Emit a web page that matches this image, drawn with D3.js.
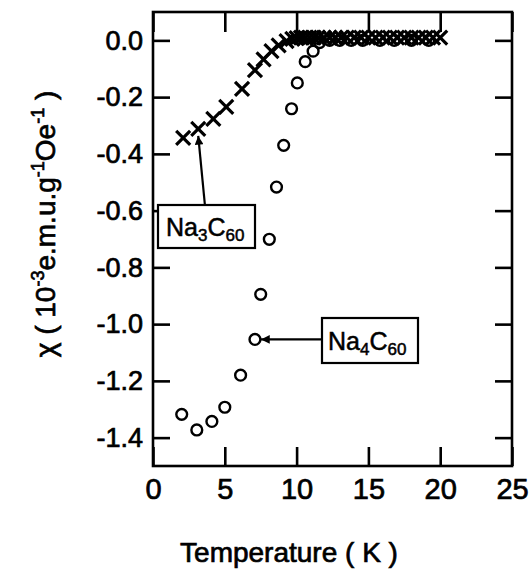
<!DOCTYPE html>
<html>
<head>
<meta charset="utf-8">
<script src="https://cdn.jsdelivr.net/npm/d3@7"></script>
<style>
  body { margin: 0; background: #fff; }
  svg { display: block; font-family: "Liberation Sans", Arial, sans-serif; }
  .axis text { fill: #000; }
</style>
</head>
<body>
<svg id="chart" width="530" height="574"></svg>
<script>
// Na3C60 (crosses)
const na3T = [2.1, 3.15, 4.2, 5.1, 6.2, 7.1, 7.7, 8.25, 8.75, 9.3,
              9.7, 10.0, 10.3, 10.6, 10.9, 11.2, 11.5, 11.9, 12.3, 12.7, 13.1, 13.5,
              14.0, 14.5, 15.0, 15.5, 16.0, 16.5, 17.0, 17.5, 18.0, 18.5, 19.0, 19.5, 20.0];
const na3Chi = [-0.344, -0.312, -0.277, -0.234, -0.171, -0.105, -0.067, -0.038, -0.018, -0.003,
                0.005, 0.008, 0.01, 0.01, 0.01, 0.01, 0.01, 0.01, 0.01, 0.01, 0.01, 0.01,
                0.01, 0.01, 0.01, 0.01, 0.01, 0.01, 0.01, 0.01, 0.01, 0.01, 0.01, 0.01, 0.01];

// Na4C60 (circles)
const na4T = [2.0, 3.05, 4.1, 5.0, 6.1, 7.1, 7.5, 8.1, 8.6, 9.1, 9.65, 10.05, 10.6, 11.15,
              11.6, 12.3, 13.0, 13.8, 14.6, 15.8, 16.8, 18.0, 19.2];
const na4Chi = [-1.318, -1.373, -1.343, -1.293, -1.18, -1.054, -0.895, -0.701, -0.517, -0.37,
                -0.241, -0.15, -0.075, -0.038, -0.008, 0.0, 0.0, 0.0, 0.0, 0.0, 0.0, 0.0, 0.0];

const xTicks = [0, 5, 10, 15, 20, 25];
const yTicks = [0, -0.2, -0.4, -0.6, -0.8, -1.0, -1.2, -1.4];

const svg = d3.select("#chart");
const mLeft = 153, mRight = 512, mTop = 12, mBottom = 466;

const x = d3.scaleLinear().domain([0, 25]).range([mLeft, mRight]);
const y = d3.scaleLinear().domain([-1.5, 0.1]).range([mBottom, mTop]);

// axes
const gx = svg.append("g").attr("class", "axis")
  .attr("transform", `translate(0,${mBottom})`)
  .call(d3.axisBottom(x).tickValues(xTicks).tickSizeInner(-19).tickSizeOuter(0).tickPadding(12));
svg.append("g").attr("class", "axis")
  .attr("transform", `translate(0,${mTop})`)
  .call(d3.axisTop(x).tickValues(xTicks).tickSizeInner(-20).tickSizeOuter(0).tickFormat(""));
const gy = svg.append("g").attr("class", "axis")
  .attr("transform", `translate(${mLeft},0)`)
  .call(d3.axisLeft(y).tickValues(yTicks).tickSizeInner(-17).tickSizeOuter(0).tickPadding(10)
    .tickFormat(d => d.toFixed(1)));
svg.append("g").attr("class", "axis")
  .attr("transform", `translate(${mRight},0)`)
  .call(d3.axisRight(y).tickValues(yTicks).tickSizeInner(-17).tickSizeOuter(0).tickFormat(""));

svg.selectAll(".axis .domain").remove();
svg.selectAll(".axis line").attr("stroke", "#000").attr("stroke-width", 2.6);
gx.selectAll("text").attr("font-size", 29).attr("stroke", "#000").attr("stroke-width", 0.7);
gy.selectAll("text").attr("font-size", 27).attr("stroke", "#000").attr("stroke-width", 0.7);

svg.append("rect")
  .attr("x", mLeft).attr("y", mTop)
  .attr("width", mRight - mLeft).attr("height", mBottom - mTop)
  .attr("fill", "none").attr("stroke", "#000").attr("stroke-width", 2.6);

// circles
svg.append("g").selectAll("circle")
  .data(na4T.map((t, i) => [t, na4Chi[i]]))
  .join("circle")
  .attr("cx", d => x(d[0])).attr("cy", d => y(d[1]))
  .attr("r", 5.4)
  .attr("fill", "none").attr("stroke", "#000").attr("stroke-width", 2.4);

// crosses
const cs = 7;
svg.append("g").selectAll("path")
  .data(na3T.map((t, i) => [t, na3Chi[i]]))
  .join("path")
  .attr("d", d => {
    const px = x(d[0]), py = y(d[1]);
    return `M${px - cs},${py - cs}L${px + cs},${py + cs}M${px - cs},${py + cs}L${px + cs},${py - cs}`;
  })
  .attr("fill", "none").attr("stroke", "#000").attr("stroke-width", 3.2);

// arrow marker
svg.append("defs").append("marker")
  .attr("id", "arr").attr("viewBox", "0 0 10 10")
  .attr("refX", 10).attr("refY", 5)
  .attr("markerWidth", 5).attr("markerHeight", 4)
  .attr("orient", "auto-start-reverse")
  .append("path").attr("d", "M0,0L10,5L0,10Z").attr("fill", "#000");

// Na3C60 label
const na3Pt = [na3T[1], na3Chi[1]];
svg.append("line")
  .attr("x1", 205).attr("y1", 206)
  .attr("x2", x(na3Pt[0])).attr("y2", y(na3Pt[1]) + 7)
  .attr("stroke", "#000").attr("stroke-width", 2.2)
  .attr("marker-end", "url(#arr)");
svg.append("rect").attr("x", 158).attr("y", 205).attr("width", 97).attr("height", 43)
  .attr("fill", "#fff").attr("stroke", "#000").attr("stroke-width", 2.2);
const t3 = svg.append("text").attr("x", 166).attr("y", 236)
  .attr("font-size", 25).attr("stroke", "#000").attr("stroke-width", 0.5);
t3.append("tspan").text("Na");
t3.append("tspan").attr("font-size", 17).attr("dy", 5).text("3");
t3.append("tspan").attr("dy", -5).text("C");
t3.append("tspan").attr("font-size", 17).attr("dy", 5).text("60");

// Na4C60 label
const na4Pt = [na4T[5], na4Chi[5]];
svg.append("line")
  .attr("x1", 322).attr("y1", y(na4Pt[1]))
  .attr("x2", x(na4Pt[0]) + 6).attr("y2", y(na4Pt[1]))
  .attr("stroke", "#000").attr("stroke-width", 2.2)
  .attr("marker-end", "url(#arr)");
svg.append("rect").attr("x", 322).attr("y", 318).attr("width", 96).attr("height", 45)
  .attr("fill", "#fff").attr("stroke", "#000").attr("stroke-width", 2.2);
const t4 = svg.append("text").attr("x", 328).attr("y", 350)
  .attr("font-size", 25).attr("stroke", "#000").attr("stroke-width", 0.5);
t4.append("tspan").text("Na");
t4.append("tspan").attr("font-size", 17).attr("dy", 5).text("4");
t4.append("tspan").attr("dy", -5).text("C");
t4.append("tspan").attr("font-size", 17).attr("dy", 5).text("60");

// axis titles
svg.append("text")
  .attr("x", 289).attr("y", 562)
  .attr("text-anchor", "middle").attr("font-size", 28)
  .attr("stroke", "#000").attr("stroke-width", 0.7)
  .text("Temperature ( K )");

const yt = svg.append("text")
  .attr("transform", "translate(55,224) rotate(-90)")
  .attr("text-anchor", "middle").attr("font-size", 28)
  .attr("stroke", "#000").attr("stroke-width", 0.7);
yt.append("tspan").text("χ ( 10");
yt.append("tspan").attr("font-size", 18).attr("dy", -11).text("-3");
yt.append("tspan").attr("dy", 11).text("e.m.u.g");
yt.append("tspan").attr("font-size", 18).attr("dy", -11).text("-1");
yt.append("tspan").attr("dy", 11).text("Oe");
yt.append("tspan").attr("font-size", 18).attr("dy", -11).text("-1");
yt.append("tspan").attr("dy", 11).text(" )");
</script>
</body>
</html>
